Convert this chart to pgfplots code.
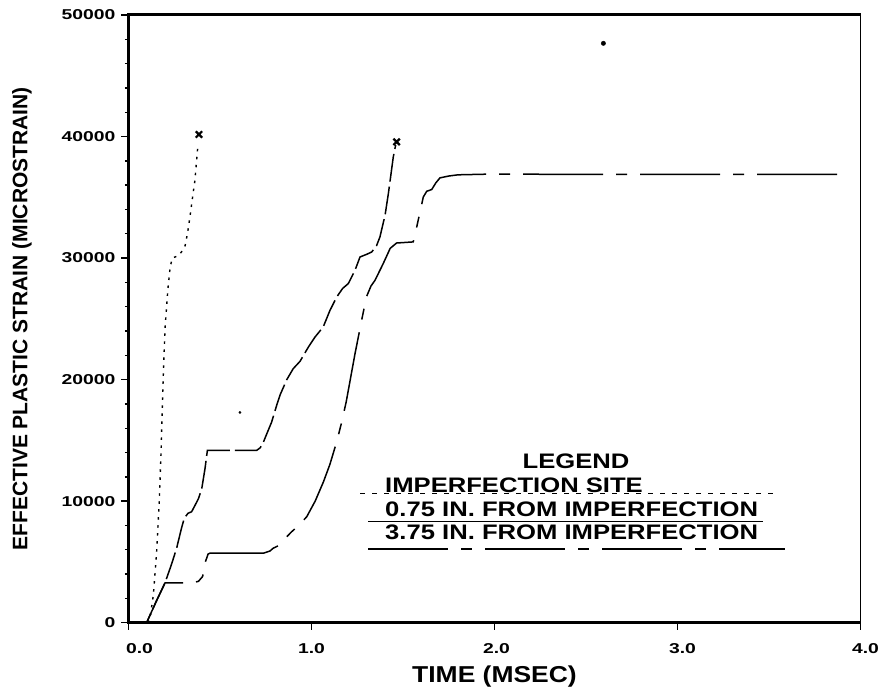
\documentclass[border=0pt]{standalone}
\usepackage{fontspec}
\setmainfont{Liberation Sans}
\usepackage{graphicx}
\usepackage{pgfplots}
\pgfplotsset{compat=1.18}
\newcommand\sxt[1]{\scalebox{1.38}[1.02]{#1}}
\newcommand\sxl[1]{\scalebox{1.22}[1]{#1}}
\begin{document}
\begin{tikzpicture}
\useasboundingbox (-128.5bp,-68.3bp) rectangle (753.5bp,622.7bp);
\begin{axis}[
  at={(0,0)}, anchor=south west,
  scale only axis, width=732bp, height=607.7bp,
  xmin=0, xmax=4, ymin=0, ymax=50000,
  scaled x ticks=false, scaled y ticks=false,
  axis line style={draw=none},
  xtick={0,1,2,3,4},
  xticklabels={\hspace*{22bp}\sxt{0.0},\sxt{1.0},\hspace*{4bp}\sxt{2.0},\hspace*{10bp}\sxt{3.0},\hspace*{10bp}\sxt{4.0}},
  ytick={0,10000,20000,30000,40000,50000},
  yticklabels={\sxt{0},\sxt{10000},\sxt{20000},\sxt{30000},\sxt{40000},\sxt{50000}},
  minor ytick={2000,4000,6000,8000,12000,14000,16000,18000,22000,24000,26000,28000,32000,34000,36000,38000,42000,44000,46000,48000},
  xtick pos=left, ytick pos=left,
  tick align=outside, major tick length=7bp, minor tick length=3.5bp,
  tick style={line width=1.4bp, black},
  ticklabel style={font=\fontsize{14bp}{16bp}\selectfont\bfseries},
  xticklabel style={anchor=center, yshift=-19bp},
  yticklabel style={anchor=east, inner sep=0pt, xshift=-6bp},
  xlabel={\scalebox{1.15}[1]{\fontsize{23bp}{26bp}\selectfont\bfseries TIME (MSEC)}},
  xlabel style={at={(axis description cs:0.5,-0.0885)}, anchor=center, inner sep=0pt},
  ylabel={\fontsize{21bp}{24bp}\selectfont\bfseries EFFECTIVE PLASTIC STRAIN (MICROSTRAIN)},
  ylabel style={at={(axis description cs:-0.1455,0.5)}, anchor=center, inner sep=0pt},
  clip=false,
]
% imperfection site (dotted)
\addplot[black, line width=1.4bp, dash pattern=on 2.5bp off 5.5bp] coordinates {
(0.105,0) (0.117,300) (0.136,2300) (0.154,5860) (0.168,9950) (0.178,14030)
(0.185,17850) (0.191,20800) (0.2,24300) (0.215,27400) (0.228,29300) (0.24,30000)
(0.272,30200) (0.295,30600) (0.309,31000) (0.322,32000) (0.336,33400) (0.35,35000)
(0.363,36400) (0.372,38000) (0.38,39400)};
% 0.75 in. from imperfection
\addplot[black, line width=1.5bp, dash pattern=on 28bp off 5bp] coordinates {
(0,0) (0.099,0) (0.15,1700) (0.2,3300) (0.235,4800) (0.263,6130) (0.29,7800)
(0.305,8600) (0.325,9000) (0.345,9130) (0.365,9700) (0.382,10200) (0.40,11000)
(0.418,12670) (0.431,14170) (0.70,14170) (0.72,14400) (0.737,14850) (0.76,15700)
(0.782,16500) (0.81,17900) (0.83,18800) (0.865,20000) (0.9,20900) (0.937,21500)
(0.983,22680) (1.019,23500) (1.064,24330) (1.101,25700) (1.138,26800) (1.17,27500)
(1.201,27900) (1.238,29000) (1.265,30090) (1.3,30300) (1.329,30500) (1.355,31000)
(1.374,31740) (1.402,33530) (1.42,35300) (1.447,38330) (1.46,39300)};
% 3.75 in. from imperfection
\addplot[black, line width=1.5bp, dash pattern=on 80bp off 13bp on 11bp off 13bp] coordinates {
(0,0) (0.099,0) (0.15,1700) (0.1995,3270) (0.296,3270) (0.35,3300) (0.382,3400)
(0.405,3800) (0.42,5000) (0.435,5650) (0.445,5720) (0.737,5720) (0.773,5900)
(0.791,6130) (0.828,6400) (0.86,7000) (0.892,7490) (0.93,8000) (0.974,8720)
(1.02,10000) (1.065,11580) (1.10,13000) (1.137,14850) (1.165,16500) (1.19,18200)
(1.238,22150) (1.274,24880) (1.30,26800) (1.325,27700) (1.347,28170) (1.392,29550)
(1.43,30800) (1.465,31240) (1.556,31330) (1.575,32560) (1.611,35030) (1.63,35500)
(1.657,35640) (1.68,36200) (1.702,36600) (1.75,36750) (1.8,36850) (1.95,36900)
(3.9,36880)};
% end markers
\addplot[only marks, mark=x, mark size=4.5bp, line width=2.2bp, black] coordinates {(0.385,40170) (1.465,39560)};
% stray dots
\addplot[only marks, mark=*, mark size=2.2bp, black] coordinates {(2.595,47670)};
\addplot[only marks, mark=*, mark size=1.1bp, black] coordinates {(0.609,17300)};
\end{axis}
% frame (axis lower-left corner is at the origin)
\begin{scope}[x=1bp,y=1bp]
\draw[line width=2.6bp] (0,0) -- (0,607.7);
\draw[line width=3bp] (-1.3,0) -- (732,0);
\draw[line width=3bp] (-1.3,607.7) -- (732,607.7);
\draw[line width=1.3bp] (732,-1.5) -- (732,609.2);
% legend
\node[anchor=base, inner sep=0pt, font=\fontsize{21bp}{24bp}\selectfont\bfseries] at (447.5,154.4) {\sxl{LEGEND}};
\node[anchor=base west, inner sep=0pt, font=\fontsize{21bp}{24bp}\selectfont\bfseries] at (256.5,130.2) {\sxl{IMPERFECTION SITE}};
\draw[line width=1.4bp, dash pattern=on 5bp off 7bp] (231.5,129.4) -- (651.5,129.4);
\node[anchor=base west, inner sep=0pt, font=\fontsize{21bp}{24bp}\selectfont\bfseries] at (256.5,106.5) {\sxl{0.75 IN. FROM IMPERFECTION}};
\draw[line width=1.6bp] (239.5,101) -- (634.5,101);
\node[anchor=base west, inner sep=0pt, font=\fontsize{21bp}{24bp}\selectfont\bfseries] at (256.5,83) {\sxl{3.75 IN. FROM IMPERFECTION}};
\draw[line width=1.6bp, dash pattern=on 80bp off 13bp on 11bp off 13bp] (239.5,73.4) -- (656.5,73.4);
\end{scope}
\end{tikzpicture}
\end{document}
